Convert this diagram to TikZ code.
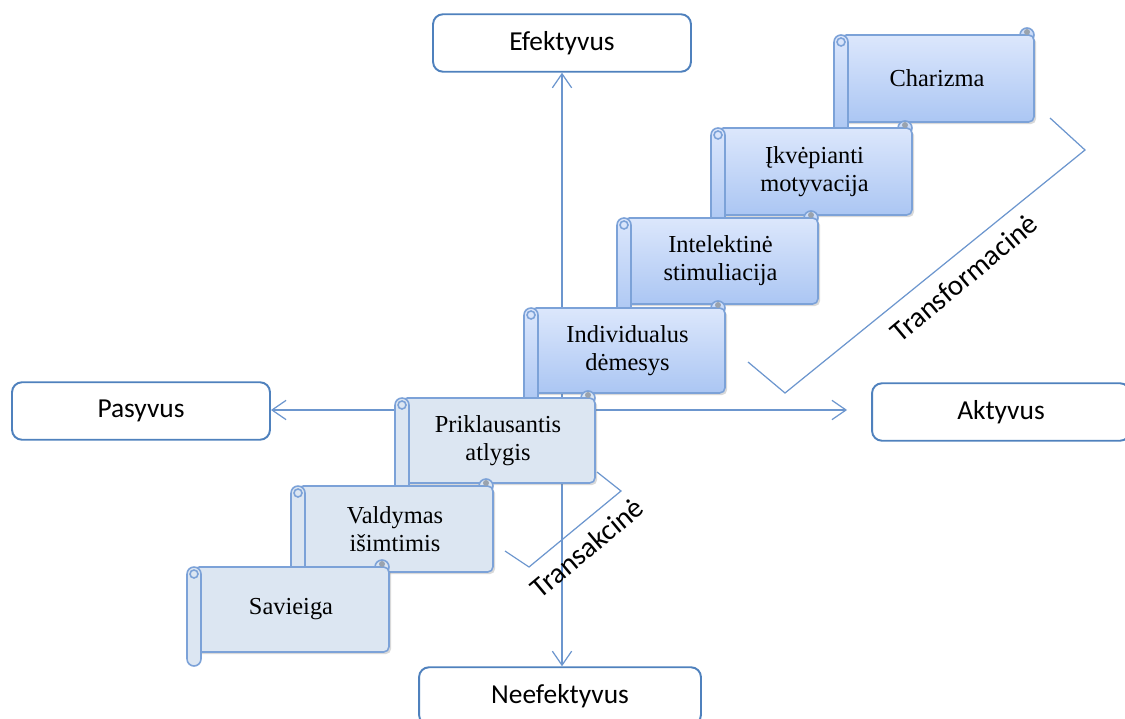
\documentclass[tikz,border=0pt]{standalone}
\usepackage{fontspec}
\setmainfont{Liberation Serif}
\newfontfamily\calib{Carlito}
\usepackage{xcolor}
\usetikzlibrary{arrows.meta, shadows}

\definecolor{boxblue}{HTML}{4F81BD}
\definecolor{lineblue}{HTML}{6C96CE}
\definecolor{scrolledge}{HTML}{7CA2D8}
\definecolor{scrolltop}{HTML}{DCE7FC}
\definecolor{scrollbot}{HTML}{ABC6F3}
\definecolor{scrollflat}{HTML}{DCE6F2}
\definecolor{curlgray}{HTML}{9AA3AE}

% scroll: name, left, top, right, bottom, fill, text
\newcommand{\scrollbox}[7]{%
  \draw[scrollline, #6] (#4-7,#3) circle[radius=7];
  \draw[scrollline, #6, rounded corners=3pt,
        drop shadow={opacity=0.3, shadow xshift=1.2pt, shadow yshift=-1.2pt}]
        (#2+7,#3) rectangle (#4,#5);
  \fill[curlgray] (#4-7,#3-3) circle[radius=3];
  \draw[scrollline, #6, rounded corners=4pt] (#2,#3) rectangle (#2+14,#5+14);
  \draw[scrollline] (#2+7,#3+7) circle[radius=4];
  \node[scrolltext] (#1) at ({(#2+#4)/2+3},{(#3+#5)/2}) {#7};
}

\begin{document}
\begin{tikzpicture}[
    x=0.02cm, y=-0.02cm,
    pole/.style={
        draw=boxblue,
        line width=1.1pt,
        rounded corners=0.2cm,
        fill=white,
        minimum width=5.16cm,
        minimum height=1.15cm,
        font=\calib\fontsize{15.6}{18}\selectfont
    },
    axisline/.style={draw=lineblue, line width=0.7pt, -{Straight Barb[length=8pt,width=11pt]}},
    bracket/.style={draw=lineblue, line width=0.7pt},
    bracketlabel/.style={font=\calib\fontsize{16.5}{19}\selectfont},
    scrollline/.style={draw=scrolledge, line width=0.9pt},
    gradfill/.style={top color=scrolltop, bottom color=scrollbot},
    flatfill/.style={fill=scrollflat},
    scrolltext/.style={align=center, font=\fontsize{13.9}{15.9}\selectfont}
]
\useasboundingbox (0,0) rectangle (1125,719);

% poles of the two axes
\node[pole] (efek) at (562,43) {Efektyvus};
\node[pole, minimum width=5.64cm] (neef) at (560,696) {Neefektyvus};
\node[pole] (pasyvus) at (141,411) {Pasyvus};
\node[pole] (aktyvus) at (1001,412) {Aktyvus};

\coordinate (origo) at (562,410);
\draw[axisline] (origo) -- (origo |- efek.south);
\draw[axisline] (origo) -- (origo |- neef.north);
\draw[axisline] (origo) -- (pasyvus.east |- origo);
\draw[axisline, shorten >=0.48cm] (origo) -- (aktyvus.west |- origo);

% brackets
\draw[bracket] (748,362) -- (785,393) -- (1085,150) -- (1050,118);
\node[bracketlabel, rotate=40] (transf) at (964,278) {Transformacinė};
\draw[bracket] (505,551) -- (529,567) -- (621,491) -- (597,472);
\node[bracketlabel, rotate=40] (transa) at (587,548) {Transakcinė};

% scrolls
\scrollbox{charizma}{834}{35}{1034}{122}{gradfill}{Charizma}
\scrollbox{ikvep}{711}{128}{912}{215}{gradfill}{Įkvėpianti\\motyvacija}
\scrollbox{intel}{617}{218}{818}{304}{gradfill}{Intelektinė\\stimuliacija}
\scrollbox{indiv}{524}{308}{725}{393}{gradfill}{Individualus\\dėmesys}
\scrollbox{prikl}{395}{398}{595}{483}{flatfill}{Priklausantis\\atlygis}
\scrollbox{valdym}{291}{486}{493}{572}{flatfill}{Valdymas\\išimtimis}
\scrollbox{savieiga}{187}{567}{389}{652}{flatfill}{Savieiga}

\end{tikzpicture}
\end{document}
